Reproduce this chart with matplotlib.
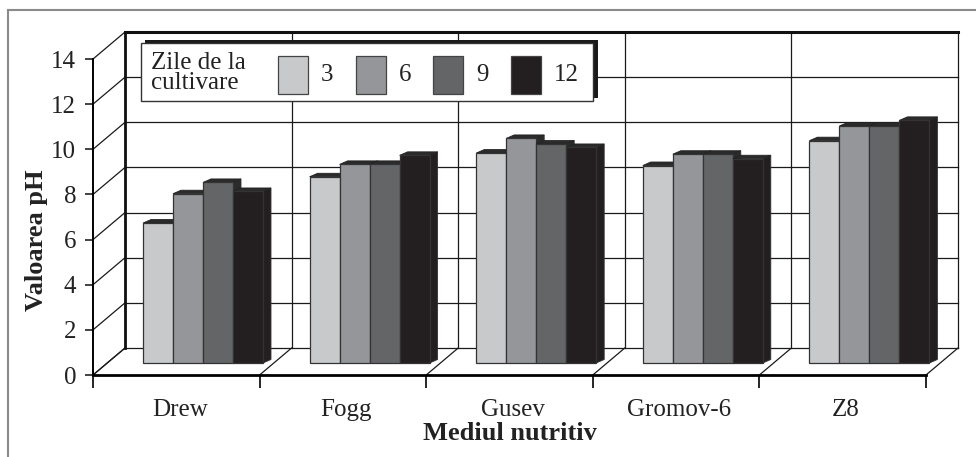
import matplotlib
matplotlib.use("Agg")
import matplotlib.pyplot as plt
from matplotlib.patches import Polygon, Rectangle
from matplotlib.lines import Line2D

# date: valoarea pH pe medii nutritive si zile de cultivare
medii = ["Drew", "Fogg", "Gusev", "Gromov-6", "Z8"]
zile = ["3", "6", "9", "12"]
ph_3 = [6.2, 8.25, 9.3, 8.75, 9.85]
ph_6 = [7.5, 8.8, 9.95, 9.25, 10.5]
ph_9 = [8.0, 8.8, 9.7, 9.25, 10.5]
ph_12 = [7.6, 9.2, 9.55, 9.05, 10.75]
serii = [ph_3, ph_6, ph_9, ph_12]
culori = ["#c8c9cb", "#959699", "#646567", "#231f20"]
yticks = list(range(0, 15, 2))

W, H = 976, 457
plt.rcParams["font.family"] = ["Liberation Serif", "DejaVu Serif"]
fs = 18

fig = plt.figure(figsize=(W / 100, H / 100), dpi=100)
ax = fig.add_axes([0, 0, 1, 1])

# scara: 1 categorie = 166.6 px, 1 unitate pH = 22.57 px, originea la (93, 375)
sx, sy, x0, y0 = 166.6, 22.57, 93, 375
ax.set_xlim(-x0 / sx, (W - x0) / sx)
ax.set_ylim((y0 - H) / sy, y0 / sy)
ax.set_facecolor("none")

n = len(medii)
ymax = 14
# adancimea peretilor (efect 3D)
ddx, ddy = 32 / sx, 27 / sy
grid_kw = dict(color="#1a1a1a", lw=0.9, zorder=1)

# perete din spate: linii orizontale
for v in yticks:
    ax.plot([ddx, n + ddx], [v + ddy, v + ddy], **grid_kw)
    ax.plot([0, ddx], [v, v + ddy], **grid_kw)
# perete din spate: linii verticale
for i in range(n + 1):
    ax.plot([i + ddx, i + ddx], [ddy, ymax + ddy], **grid_kw)
    ax.plot([i, i + ddx], [0, ddy], **grid_kw)
ax.plot([ddx, n + ddx], [ymax + ddy, ymax + ddy], color="#111", lw=2.2, zorder=2)
ax.plot([ddx, ddx], [ddy, ymax + ddy], color="#111", lw=2.0, zorder=2)

# coloane
bw = 30 / sx                # latimea unei coloane
bx0 = 50 / sx               # primul rand de coloane fata de categorie
bbase = 12 / sy             # baza coloanelor
bdx, bdy = 8 / sx, 3.5 / sy  # adancimea coloanelor
for i in range(n):
    for j, (vals, c) in enumerate(zip(serii, culori)):
        xl = i + bx0 + j * bw
        top = bbase + vals[i]
        side = Polygon([(xl + bw, bbase), (xl + bw + bdx, bbase + bdy),
                        (xl + bw + bdx, top + bdy), (xl + bw, top)],
                       closed=True, fc="#2b2b2b" if j < 3 else c,
                       ec="#333", lw=0.6, zorder=4 + j * 0.1)
        cap = Polygon([(xl, top), (xl + bdx, top + bdy),
                       (xl + bw + bdx, top + bdy), (xl + bw, top)],
                      closed=True, fc="#2b2b2b", ec="#222", lw=0.6,
                      zorder=4 + j * 0.1)
        ax.add_patch(side)
        ax.add_patch(cap)
        ax.bar(xl, vals[i], width=bw, bottom=bbase, align="edge", color=c,
               edgecolor="#333", linewidth=0.9, zorder=4.05 + j * 0.1)

# axe din fata
for s in ["top", "right"]:
    ax.spines[s].set_visible(False)
ax.spines["left"].set_position(("data", 0))
ax.spines["left"].set_bounds(0, ymax)
ax.spines["left"].set_linewidth(1.4)
ax.spines["bottom"].set_position(("data", 0))
ax.spines["bottom"].set_bounds(0, n)
ax.spines["bottom"].set_linewidth(2.0)
ax.spines["left"].set_zorder(3)
ax.spines["bottom"].set_zorder(3)

ax.set_yticks(yticks)
ax.set_yticklabels([str(v) for v in yticks])
ax.tick_params(axis="y", direction="out", length=6, width=1.2, pad=6,
               labelsize=fs, colors="#222")
ax.set_xticks(range(n + 1))
ax.set_xticklabels([])
ax.tick_params(axis="x", which="major", direction="out", length=9, width=1.2)
ax.set_xticks([i + 0.52 for i in range(n)], minor=True)
ax.set_xticklabels(medii, minor=True)
ax.tick_params(axis="x", which="minor", length=0, pad=17, labelsize=fs,
               colors="#222")

fig.text(36 / W, 1 - 240 / H, "Valoarea pH", rotation=90, fontsize=19,
         fontweight="bold", ha="center", va="center", color="#222")
fig.text(510 / W, 1 - 434 / H, "Mediul nutritiv", fontsize=19,
         fontweight="bold", ha="center", va="center", color="#222")

# legenda
def fr(px, py):
    return px / W, 1 - py / H

fig.patches.append(Rectangle(fr(145, 98), 453 / W, 58 / H, fc="#1a1a1a",
                             ec="none", transform=fig.transFigure, zorder=8))
fig.patches.append(Rectangle(fr(141, 101), 452 / W, 58 / H, fc="white",
                             ec="#333", lw=1.0, transform=fig.transFigure,
                             zorder=9))
fig.text(*fr(151, 73), "Zile de la\ncultivare", fontsize=fs, ha="left",
         va="center", linespacing=0.9, color="#222", zorder=10)
for k, (z, c) in enumerate(zip(zile, culori)):
    sxp = 278 + k * 77.7
    fig.patches.append(Rectangle(fr(sxp, 94), 30 / W, 38 / H, fc=c,
                                 ec="#444", lw=0.9, transform=fig.transFigure,
                                 zorder=10))
    fig.text(*fr(sxp + 43, 75), z, fontsize=fs, ha="left", va="center",
             color="#222", zorder=10)

# chenar gri exterior
fig.lines.append(Line2D([8 / W, 1], [1 - 10 / H, 1 - 10 / H], color="#8a8a8a",
                        lw=1.5, transform=fig.transFigure))
fig.lines.append(Line2D([8 / W, 8 / W], [0, 1 - 10 / H], color="#8a8a8a",
                        lw=1.5, transform=fig.transFigure))

fig.savefig("out.png", dpi=100)
